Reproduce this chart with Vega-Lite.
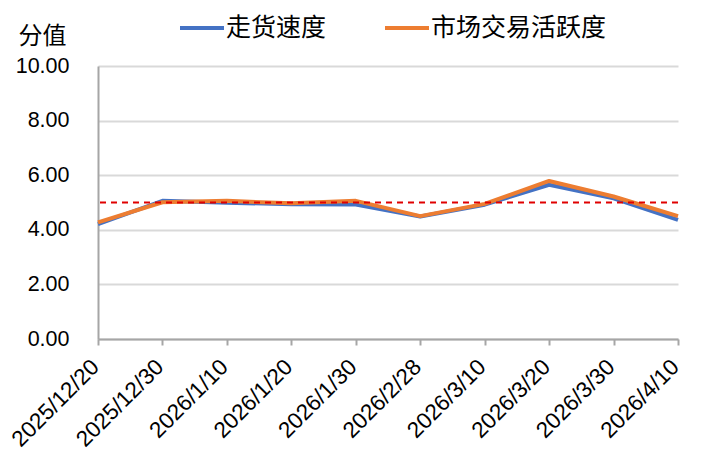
{
  "$schema": "https://vega.github.io/schema/vega-lite/v6.json",
  "width": 580,
  "height": 273,
  "autosize": "none",
  "padding": {"left": 98, "top": 66, "right": 33, "bottom": 131},
  "background": "white",
  "config": {
    "view": {"stroke": null},
    "font": "Liberation Sans"
  },
  "datasets": {
    "main": [
      {"date": "2025/12/20", "series": "走货速度", "value": 4.21},
      {"date": "2025/12/30", "series": "走货速度", "value": 5.06},
      {"date": "2026/1/10", "series": "走货速度", "value": 4.99},
      {"date": "2026/1/20", "series": "走货速度", "value": 4.94},
      {"date": "2026/1/30", "series": "走货速度", "value": 4.93},
      {"date": "2026/2/28", "series": "走货速度", "value": 4.49},
      {"date": "2026/3/10", "series": "走货速度", "value": 4.92},
      {"date": "2026/3/20", "series": "走货速度", "value": 5.65},
      {"date": "2026/3/30", "series": "走货速度", "value": 5.15},
      {"date": "2026/4/10", "series": "走货速度", "value": 4.36},
      {"date": "2025/12/20", "series": "市场交易活跃度", "value": 4.27},
      {"date": "2025/12/30", "series": "市场交易活跃度", "value": 5.01},
      {"date": "2026/1/10", "series": "市场交易活跃度", "value": 5.06},
      {"date": "2026/1/20", "series": "市场交易活跃度", "value": 4.97},
      {"date": "2026/1/30", "series": "市场交易活跃度", "value": 5.06},
      {"date": "2026/2/28", "series": "市场交易活跃度", "value": 4.5},
      {"date": "2026/3/10", "series": "市场交易活跃度", "value": 4.95},
      {"date": "2026/3/20", "series": "市场交易活跃度", "value": 5.79},
      {"date": "2026/3/30", "series": "市场交易活跃度", "value": 5.22},
      {"date": "2026/4/10", "series": "市场交易活跃度", "value": 4.5}
    ]
  },
  "layer": [
    {
      "data": {"name": "main"},
      "mark": {"type": "line", "strokeWidth": 4, "strokeJoin": "round"},
      "encoding": {
        "x": {
          "field": "date", "type": "ordinal", "sort": null,
          "scale": {"type": "point", "padding": 0},
          "axis": {
            "title": null, "labelAngle": -45, "labelAlign": "right", "labelBaseline": "middle",
            "labelFontSize": 22.5, "labelColor": "#000000", "labelPadding": 18, "labelOffset": -3,
            "domainColor": "#A6A6A6", "domainWidth": 2, "tickColor": "#A6A6A6", "tickWidth": 2, "tickSize": 6,
            "grid": false
          }
        },
        "y": {
          "field": "value", "type": "quantitative",
          "scale": {"domain": [0, 10], "nice": false},
          "axis": {
            "values": [0, 2, 4, 6, 8, 10], "format": ".2f",
            "title": "分值", "titleAngle": 0, "titleAlign": "left", "titleBaseline": "middle",
            "titleX": -80, "titleY": -30, "titleFont": "Noto Sans CJK SC", "titleFontSize": 24, "titleFontWeight": "normal", "titleColor": "#000000",
            "labelFontSize": 21.5, "labelColor": "#000000", "labelPadding": 29,
            "domainColor": "#A6A6A6", "domainWidth": 2, "ticks": false,
            "gridColor": "#D9D9D9", "gridWidth": 2
          }
        },
        "color": {
          "field": "series", "type": "nominal",
          "scale": {"domain": ["走货速度", "市场交易活跃度"], "range": ["#4472C4", "#ED7D31"]},
          "legend": {
            "title": null, "orient": "none", "legendX": 80, "legendY": -62, "direction": "horizontal",
            "symbolType": "stroke", "symbolStrokeWidth": 4, "symbolSize": 1936,
            "labelFont": "Noto Sans CJK SC", "labelFontSize": 25, "labelColor": "#000000", "labelLimit": 400, "columnPadding": 50, "labelOffset": 0
          }
        },
        "order": {"field": "series", "sort": "descending"}
      }
    },
    {
      "data": {"values": [{"ref": 5}]},
      "mark": {"type": "rule", "color": "#E00000", "strokeWidth": 2, "strokeDash": [6, 5]},
      "encoding": {"y": {"field": "ref", "type": "quantitative"}}
    }
  ]
}
